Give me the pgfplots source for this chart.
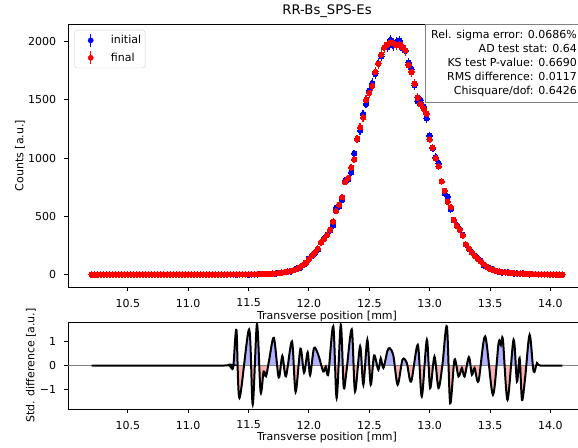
\documentclass[border=0pt]{standalone}
\usepackage{fontspec}
\setmainfont{DejaVu Sans}
\usepackage{pgfplots}
\pgfplotsset{compat=1.18}
\usepackage{pgfplotstable}

\pgfplotstableread{
x ini eini fin efin
10.200 0 0 0 0
10.225 0 0 0 0
10.250 0 0 0 0
10.275 0 0 0 0
10.300 0 0 0 0
10.325 0 0 0 0
10.350 0 0 0 0
10.375 0 0 0 0
10.400 0 0 0 0
10.425 0 0 0 0
10.450 0 0 0 0
10.475 0 0 0 0
10.500 0 0 0 0
10.525 0 0 0 0
10.550 0 0 0 0
10.575 0 0 0 0
10.600 0 0 0 0
10.625 0 0 0 0
10.650 0 0 0 0
10.675 0 0 0 0
10.700 0 0 0 0
10.725 0 0 0 0
10.750 0 0 0 0
10.775 0 0 0 0
10.800 0 0 0 0
10.825 0 0 0 0
10.850 0 0 0 0
10.875 0 0 0 0
10.900 0 0 0 0
10.925 0 0 0 0
10.950 0 0 0 0
10.975 0 0 0 0
11.000 0 0 0 0
11.025 0 0 0 0
11.050 0 0 0 0
11.075 0 0 0 0
11.100 0 0 0 0
11.125 0 0 0 0
11.150 0 0 0 0
11.175 0 0 0 0
11.200 0 0 0 0
11.225 0 0 0 0
11.250 0 0 0 0
11.275 0 0 0 0
11.300 0 0 0 0
11.325 0 0 0 0
11.350 1 1 1 1
11.375 1 1 1 1
11.400 0 0 2 1.4
11.425 2 1.4 1 1
11.450 2 1.4 2 1.4
11.475 1 1 2 1.4
11.500 0 0 3 1.7
11.525 3 1.7 2 1.4
11.550 2 1.4 3 1.7
11.575 1 1 4 2
11.600 6 2.4 4 2
11.625 5 2.2 5 2.2
11.650 6 2.4 5 2.2
11.675 5 2.2 6 2.4
11.700 5 2.2 8 2.8
11.725 8 2.8 10 3.2
11.750 15 3.9 13 3.6
11.775 15 3.9 17 4.1
11.800 22 4.7 21 4.6
11.825 27 5.2 26 5.1
11.850 26 5.1 31 5.6
11.875 37 6.1 38 6.2
11.900 53 7.3 47 6.9
11.925 58 7.6 62 7.9
11.950 81 9 80 8.9
11.975 96 9.8 100 10
12.000 135 11.6 130 11.4
12.025 157 12.5 162 12.7
12.050 181 13.5 190 13.8
12.075 215 14.7 222 14.9
12.100 277 16.6 275 16.6
12.125 309 17.6 305 17.5
12.150 342 18.5 338 18.4
12.175 379 19.5 385 19.6
12.200 421 20.5 455 21.3
12.225 573 23.9 545 23.3
12.250 583 24.1 600 24.5
12.275 642 25.3 665 25.8
12.300 806 28.4 795 28.2
12.325 816 28.6 830 28.8
12.350 878 29.6 920 30.3
12.375 1040 32.2 990 31.5
12.400 1162 34.1 1165 34.1
12.425 1237 35.2 1265 35.6
12.450 1379 37.1 1350 36.7
12.475 1465 38.3 1500 38.7
12.500 1580 39.7 1560 39.5
12.525 1644 40.5 1620 40.2
12.550 1723 41.5 1740 41.7
12.575 1816 42.6 1810 42.5
12.600 1877 43.3 1890 43.5
12.625 1952 44.2 1950 44.2
12.650 1953 44.2 1975 44.4
12.675 2015 44.9 1995 44.7
12.700 1967 44.4 1985 44.6
12.725 1997 44.7 1970 44.4
12.750 2008 44.8 1975 44.4
12.775 1946 44.1 1955 44.2
12.800 1921 43.8 1925 43.9
12.825 1821 42.7 1800 42.4
12.850 1765 42 1740 41.7
12.875 1628 40.3 1640 40.5
12.900 1487 38.6 1520 39
12.925 1499 38.7 1465 38.3
12.950 1444 38 1425 37.7
12.975 1341 36.6 1380 37.1
13.000 1191 34.5 1160 34.1
13.025 1083 32.9 1090 33
13.050 1009 31.8 1000 31.6
13.075 957 30.9 930 30.5
13.100 800 28.3 800 28.3
13.125 696 26.4 720 26.8
13.150 668 25.8 625 25
13.175 560 23.7 580 24.1
13.200 466 21.6 470 21.7
13.225 426 20.6 420 20.5
13.250 391 19.8 385 19.6
13.275 341 18.5 335 18.3
13.300 257 16 260 16.1
13.325 221 14.9 225 15
13.350 194 13.9 190 13.8
13.375 164 12.8 160 12.6
13.400 141 11.9 135 11.6
13.425 118 10.9 112 10.6
13.450 77 8.8 88 9.4
13.475 65 8.1 67 8.2
13.500 56 7.5 50 7.1
13.525 48 6.9 40 6.3
13.550 30 5.5 32 5.7
13.575 21 4.6 26 5.1
13.600 18 4.2 22 4.7
13.625 21 4.6 19 4.4
13.650 22 4.7 16 4
13.675 13 3.6 14 3.7
13.700 8 2.8 12 3.5
13.725 12 3.5 10 3.2
13.750 8 2.8 9 3
13.775 12 3.5 8 2.8
13.800 7 2.6 6 2.4
13.825 2 1.4 5 2.2
13.850 4 2 4 2
13.875 3 1.7 3 1.7
13.900 2 1.4 2 1.4
13.925 2 1.4 2 1.4
13.950 1 1 1 1
13.975 1 1 1 1
14.000 0 0 0 0
14.025 0 0 0 0
14.050 0 0 0 0
14.075 0 0 0 0
14.100 0 0 0 0
}\profile

\pgfplotstableread{
x r
10.200 0
11.300 0
11.340 0.03
11.360 -0.12
11.375 0.0
11.400 1.48
11.425 -1.35
11.505 1.50
11.535 -1.62
11.570 1.72
11.600 -1.10
11.625 -0.25
11.645 -0.45
11.670 0.20
11.710 1.15
11.750 -0.50
11.780 0.40
11.810 -0.45
11.860 1.00
11.890 -1.10
11.930 0.70
11.960 -0.30
11.990 0.55
12.010 -0.40
12.042 0.72
12.078 0.44
12.119 -0.25
12.140 -0.05
12.161 -0.35
12.202 1.63
12.230 -1.36
12.264 1.70
12.288 -0.88
12.310 -0.30
12.355 1.50
12.382 -1.08
12.424 0.80
12.451 -0.80
12.484 1.07
12.512 -0.80
12.540 0.42
12.575 -0.18
12.595 0.30
12.617 -0.10
12.650 0.60
12.670 0.72
12.700 0.40
12.735 -0.80
12.775 0.24
12.811 0.10
12.847 -0.67
12.902 0.86
12.935 -1.29
12.977 1.07
13.004 -0.94
13.040 0.37
13.073 -0.94
13.106 0.03
13.143 1.63
13.170 -1.57
13.206 0.24
13.239 -0.46
13.267 -0.11
13.289 -0.46
13.325 0.35
13.350 -0.39
13.372 -0.10
13.405 -0.65
13.460 1.21
13.524 -1.22
13.571 0.93
13.590 0.86
13.607 1.07
13.645 -1.43
13.695 1.07
13.723 -0.67
13.745 0.31
13.765 -1.43
13.792 -0.46
13.828 1.28
13.861 -0.25
13.889 0.10
13.916 0
14.100 0
}\resid

\begin{document}
\begin{tikzpicture}[font=\fontsize{11}{13}\selectfont]
\pgfplotsset{
  mystyle/.style={
    scale only axis, width=518pt,
    xmin=10.005, xmax=14.295,
    axis line style={line width=0.9pt},
    tick align=outside, major tick length=3.9pt,
    tick style={line width=0.9pt, black},
    xtick pos=left, ytick pos=left,
    xtick={10.5,11,11.5,12,12.5,13,13.5,14},
    xticklabels={10.5,11.0,11.5,12.0,12.5,13.0,13.5,14.0},
    xticklabel style={inner sep=0pt, anchor=north},
    yticklabel style={inner sep=0pt, anchor=east},
    xticklabel shift=7.8pt, yticklabel shift=7.8pt,
    xlabel={Transverse position [mm]},
  },
  fillstyle/.style={
    scale only axis, width=518pt, height=43.5pt,
    xmin=10.005, xmax=14.295, hide axis, clip=true,
  }
}
% ---------------- top panel
\begin{axis}[mystyle, name=top, at={(0pt,122pt)}, anchor=south west,
  height=263pt, ymin=-107, ymax=2152,
  ytick={0,500,1000,1500,2000},
  yticklabels={0,500,1000,1500,2000},
  ylabel={Counts [a.u.]},
  ylabel style={at={(axis description cs:-0.0927,0.5)}, anchor=center},
  xlabel style={at={(axis description cs:0.5,-0.1103)}, anchor=center},
  title={RR-Bs\_SPS-Es},
  title style={at={(axis description cs:0.5,1)}, anchor=base, yshift=3.2pt, font=\fontsize{13.2}{15}\selectfont},
  legend style={at={(axis description cs:0,1)}, anchor=north west, xshift=6.3pt, yshift=-6pt,
    draw=black!20, rounded corners=2.5pt, fill=white, inner xsep=2pt, inner ysep=2pt,
    row sep=1pt, font=\fontsize{11}{13}\selectfont},
  legend cell align=left,
]
\addplot[blue, only marks, mark=*, mark size=2.7pt, mark options={fill=blue, draw=blue, line width=0pt},
  legend image code/.code={\path (0pt,-8pt) (32pt,8pt); \draw[blue, line width=1.5pt] (14pt,-6.3pt)--(14pt,6.3pt); \fill[blue] (14pt,0pt) circle (2.6pt);},
  error bars/y dir=both, error bars/y explicit,
  error bars/error bar style={line width=1.5pt, blue}, error bars/error mark=none]
  table[x=x, y=ini, y error=eini] {\profile};
\addlegendentry{initial}
\addplot[red, only marks, mark=*, mark size=2.7pt, mark options={fill=red, draw=red, line width=0pt},
  legend image code/.code={\path (0pt,-8pt) (32pt,8pt); \draw[red, line width=1.5pt] (14pt,-6.3pt)--(14pt,6.3pt); \fill[red] (14pt,0pt) circle (2.6pt);},
  error bars/y dir=both, error bars/y explicit,
  error bars/error bar style={line width=1.5pt, red}, error bars/error mark=none]
  table[x=x, y=fin, y error=efin] {\profile};
\addlegendentry{final}
\end{axis}
% ---------------- bottom panel: positive fill (clipped to upper half)
\begin{axis}[fillstyle, at={(0pt,43.5pt)}, anchor=south west, ymin=0, ymax=1.81]
\addplot[fill=blue!30, draw=none, smooth] table[x=x, y=r] {\resid} \closedcycle;
\end{axis}
% ---------------- bottom panel: negative fill (clipped to lower half)
\begin{axis}[fillstyle, at={(0pt,0pt)}, anchor=south west, ymin=-1.81, ymax=0]
\addplot[fill=red!30, draw=none, smooth] table[x=x, y=r] {\resid} \closedcycle;
\end{axis}
% ---------------- bottom panel: curve and axes
\begin{axis}[mystyle, name=bot, at={(0pt,0pt)}, anchor=south west,
  height=87pt, ymin=-1.81, ymax=1.81,
  ytick={-1,0,1}, yticklabels={−1,0,1},
  ylabel={Std. difference [a.u.]},
  ylabel style={at={(axis description cs:-0.0714,0.5)}, anchor=center},
  xlabel style={at={(axis description cs:0.5,-0.3218)}, anchor=center},
]
\addplot[gray, line width=1pt] coordinates {(10.005,0) (14.295,0)};
\addplot[black, line width=2pt, smooth] table[x=x, y=r] {\resid};
\end{axis}
% ---------------- statistics box
\draw[black!50, fill=white, line width=0.9pt] (357.7pt,306.3pt) rectangle (530pt,384.7pt);
\node[anchor=east, align=right, inner sep=0pt, font=\fontsize{11}{14}\selectfont] at (509pt,345.3pt)
  {Rel. sigma error: 0.0686\%\\AD test stat: 0.64\\KS test P-value: 0.6690\\RMS difference: 0.0117\\Chisquare/dof: 0.6426};
\pgfresetboundingbox
\useasboundingbox (-68pt,-38pt) rectangle (510pt,409pt);
\end{tikzpicture}
\end{document}
